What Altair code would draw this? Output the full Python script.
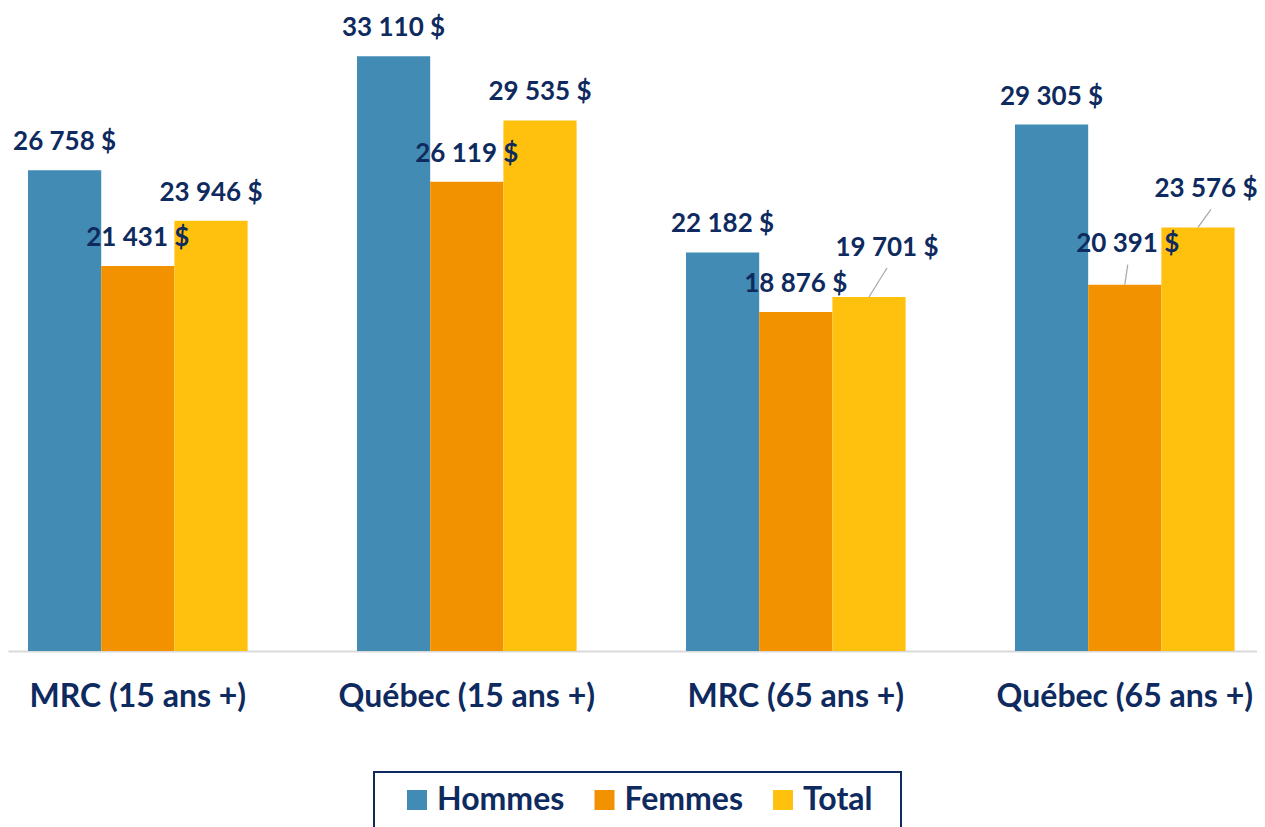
import altair as alt
import pandas as pd

groups = ["MRC (15 ans +)", "Québec (15 ans +)", "MRC (65 ans +)", "Québec (65 ans +)"]
series = ["Hommes", "Femmes", "Total"]
hommes = [26758, 33110, 22182, 29305]
femmes = [21431, 26119, 18876, 20391]
total = [23946, 29535, 19701, 23576]

colors = ["#428BB4", "#F39200", "#FFC10E"]
NAVY = "#0E2A5E"
FONT = "Lato"

rows = []
for s, vals in zip(series, [hommes, femmes, total]):
    for g, v in zip(groups, vals):
        rows.append({"groupe": g, "serie": s, "valeur": v})
df = pd.DataFrame(rows)

# labels moved away from their default place, with a leader line
moved = [
    ("MRC (65 ans +)", "Total", 18, -41, "M0,0L18,-29"),
    ("Québec (65 ans +)", "Femmes", 3, -33, "M0,0L3,-20"),
    ("Québec (65 ans +)", "Total", 8, -30, "M0,0L13,-18"),
]

def match(g, s):
    return f"(datum.groupe == '{g}' && datum.serie == '{s}')"

x = alt.X(
    "groupe:N", sort=groups, title=None,
    scale=alt.Scale(paddingInner=0.3325, paddingOuter=0.0645, align=0.4717, round=False),
    axis=alt.Axis(labelFont=FONT, labelFontWeight="bold", labelFontSize=32,
                  labelColor=NAVY, labelAngle=0, labelPadding=55, labelLimit=0,
                  labelBaseline="alphabetic", ticks=False, tickSize=0,
                  domainColor="#D9D9D9", domainWidth=2, grid=False),
)
xo = alt.XOffset("serie:N", sort=series,
                 scale=alt.Scale(paddingInner=0, paddingOuter=0, round=False))
y = alt.Y("valeur:Q", scale=alt.Scale(domain=[0, 35790], nice=False, zero=True), axis=None)
color = alt.Color(
    "serie:N", sort=series,
    scale=alt.Scale(domain=series, range=colors),
    legend=alt.Legend(title=None, orient="none", legendX=366, legendY=764,
                      direction="horizontal", symbolType="square", symbolSize=400,
                      symbolStrokeWidth=0, labelFont=FONT, labelFontWeight="bold",
                      labelFontSize=32, labelColor=NAVY, labelOffset=4,
                      labelExpr="datum.label == 'Total' ? 'Total\u00a0\u00a0\u200b' : datum.label",
                      columnPadding=8.5, strokeColor=NAVY, padding=12, symbolOffset=15),
)

base = alt.Chart(df).transform_calculate(
    label="replace(format(datum.valeur, ','), ',', ' ') + ' $'"
)

bars = base.mark_bar().encode(x=x, xOffset=xo, y=y, color=color)

text_style = dict(baseline="alphabetic", align="center", font=FONT,
                  fontWeight="bold", fontSize=26, color=NAVY)

not_moved = "!(" + " || ".join(match(g, s) for g, s, *_ in moved) + ")"
labels = base.transform_filter(not_moved).mark_text(dy=-20, **text_style).encode(
    x=x, xOffset=xo, y=y, text="label:N"
)

layers = [bars, labels]
for g, s, dx, dy, path in moved:
    layers.append(
        base.transform_filter(match(g, s)).mark_text(dx=dx, dy=dy, **text_style).encode(
            x=x, xOffset=xo, y=y, text="label:N"
        )
    )
    layers.append(
        base.transform_filter(match(g, s)).mark_point(
            shape=path, size=4, filled=False, stroke="#A6A6A6", strokeWidth=1.2, opacity=1
        ).encode(x=x, xOffset=xo, y=y)
    )

chart = alt.layer(*layers).properties(
    width=1249, height=643,
    autosize=alt.AutoSizeParams(type="none"),
    padding={"left": 0, "top": 0, "right": 0, "bottom": 200},
).configure_view(stroke=None).configure_legend(strokeWidth=2)

chart.save("out.html", embed_options={"renderer": "svg", "actions": False})
